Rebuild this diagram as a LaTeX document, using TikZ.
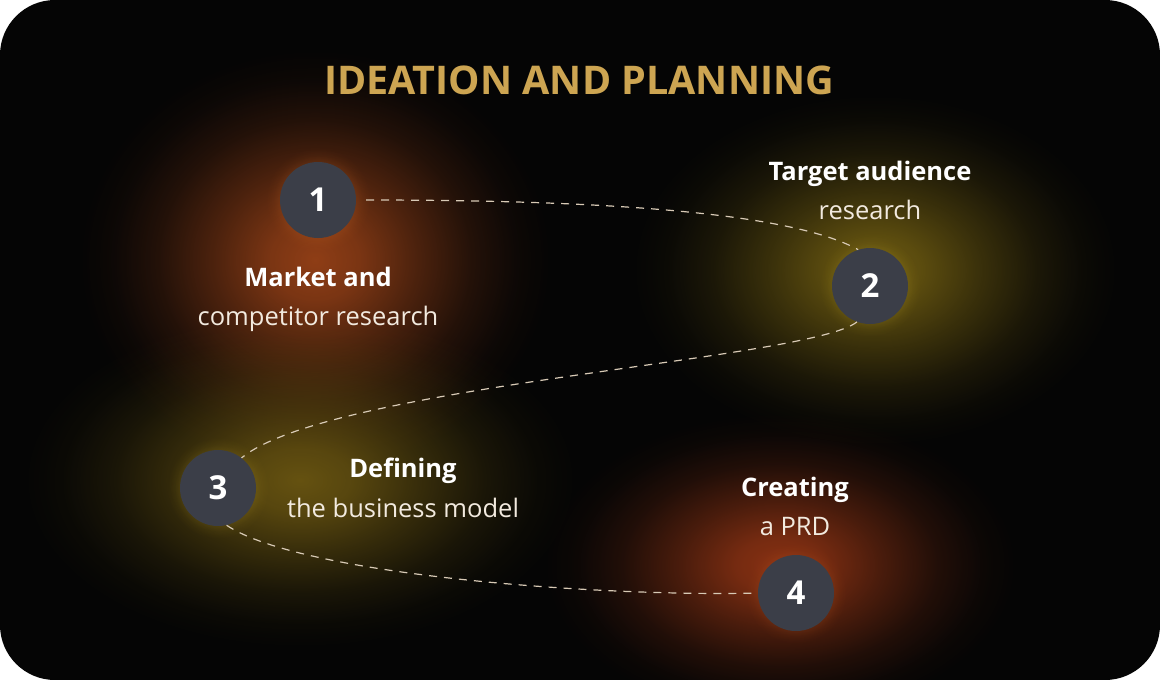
\documentclass[tikz,border=0pt]{standalone}
\usepackage{fontspec}
\setmainfont{Open Sans}
\usetikzlibrary{fadings}
\pgfdeclareradialshading{glowshade}{\pgfpointorigin}{color(0bp)=(white); color(4bp)=(white!85!black); color(9bp)=(white!52!black); color(14bp)=(white!22!black); color(18bp)=(white!6!black); color(21bp)=(black); color(50bp)=(black)}
\pgfdeclarefading{glow}{\pgfuseshading{glowshade}}
\definecolor{bg}{HTML}{050505}
\definecolor{circ}{HTML}{3B3E48}
\definecolor{gold}{HTML}{CDA552}
\definecolor{cream}{HTML}{F2EADF}
\definecolor{dashc}{HTML}{D8CAB6}
\definecolor{gorange}{HTML}{9E4418}
\definecolor{horange}{HTML}{D06A26}
\definecolor{golive}{HTML}{766212}
\definecolor{holive}{HTML}{C4A826}
\definecolor{gyellow}{HTML}{705A12}
\definecolor{hyellow}{HTML}{C4A426}
\definecolor{gred}{HTML}{903414}
\definecolor{hred}{HTML}{C85E20}
\tikzset{
  num/.style={circle, fill=circ, minimum size=76pt, inner sep=0pt, text=white, font=\bfseries\fontsize{33}{33}\selectfont},
  lblb/.style={text=white, font=\bfseries\fontsize{25.5}{25.5}\selectfont, anchor=base, inner sep=0pt},
  lbln/.style={text=cream, font=\fontsize{25.5}{25.5}\selectfont, anchor=base, inner sep=0pt},
  conn/.style={draw=dashc, line width=1.2pt, dash pattern=on 8pt off 7pt},
  glowfill/.style={fill=#1, path fading=glow}
}
\begin{document}
\begin{tikzpicture}[x=1pt,y=-1pt]
\useasboundingbox (0,0) rectangle (1160,680);
\fill[white] (0,0) rectangle (1160,680);
\fill[bg, rounded corners=55pt] (0,0) rectangle (1160,680);
\begin{scope}
\clip[rounded corners=55pt] (0,0) rectangle (1160,680);
% glows
\fill[glowfill=gorange, fill opacity=0.9] (315,260) ellipse (280 and 250);
\fill[glowfill=golive, fill opacity=0.9] (875,270) ellipse (290 and 210);
\fill[glowfill=gyellow, fill opacity=0.9] (300,480) ellipse (330 and 200);
\fill[glowfill=gred, fill opacity=0.95] (780,565) ellipse (280 and 180);
\fill[glowfill=horange, fill opacity=0.9] (318,200) circle (62);
\fill[glowfill=holive, fill opacity=0.9] (870,286) circle (60);
\fill[glowfill=hyellow, fill opacity=0.9] (218,488) circle (60);
\fill[glowfill=hred, fill opacity=0.9] (796,593) circle (60);
\end{scope}
% title
\node[text=gold, font=\bfseries\fontsize{39.5}{39.5}\selectfont, inner sep=0pt] (title) at (579,80) {IDEATION AND PLANNING};
% circles
\node[num] (c1) at (318,200) {1};
\node[num] (c2) at (870,286) {2};
\node[num] (c3) at (218,488) {3};
\node[num] (c4) at (796,593) {4};
% connectors
\draw[conn, shorten <=10pt] (c1.east) .. controls (600,200) and (790,212) .. (c2.108);
\draw[conn] (c2.250) .. controls (810,360) and (330,385) .. (c3.52);
\draw[conn] (c3.283) .. controls (300,575) and (600,597) .. (c4.west);
% labels
\node[lblb] (l1a) at (318,286) {Market and};
\node[lbln] (l1b) at (318,325) {competitor research};
\node[lblb] (l2a) at (870,180) {Target audience};
\node[lbln] (l2b) at (870,219) {research};
\node[lblb] (l3a) at (403,477) {Defining};
\node[lbln] (l3b) at (403,517) {the business model};
\node[lblb] (l4a) at (795,496) {Creating};
\node[lbln] (l4b) at (795,535) {a PRD};
\end{tikzpicture}
\end{document}
